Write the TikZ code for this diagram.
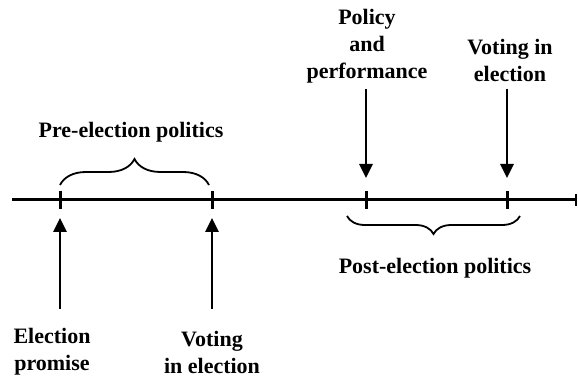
\documentclass[tikz,border=0pt]{standalone}
\usepackage{fontspec}
\setmainfont{Liberation Serif}[BoldFont={Liberation Serif Bold}]
\usetikzlibrary{arrows.meta, calc, decorations.pathreplacing}

\tikzset{
  lbl/.style={font=\fontsize{22}{27}\selectfont\bfseries, align=center, inner sep=0pt},
  arr/.style={-{Triangle[length=14pt, width=13pt]}, line width=2.8pt},
  brc/.style={decorate, decoration={brace, amplitude=#1}, line width=1.8pt},
  tck/.style={line width=3pt}
}

\begin{document}
\begin{tikzpicture}[x=1pt, y=-1pt]
  \useasboundingbox (0,0) rectangle (578,379);

  % timeline
  \coordinate (start) at (12,200);
  \coordinate (stop) at (576,200);
  \draw[line width=3pt] (start) -- (stop);
  \draw[line width=1.2pt] (576,194) -- (576,206);

  % ticks
  \coordinate (t1) at (60,200);
  \coordinate (t2) at (212,200);
  \coordinate (t3) at (366,200);
  \coordinate (t4) at (507,200);
  \foreach \t in {t1,t2,t3,t4}
    \draw[tck] ($(\t)+(0,-9)$) -- ($(\t)+(0,9)$);

  % pre-election brace
  \draw[brc=26pt] (60,185) -- (209,185);
  \node[lbl] (pre) at (131,132) {Pre-election politics};

  % post-election brace
  \draw[brc=18pt] (520,216) -- (347,216);
  \node[lbl] (post) at (435,268) {Post-election politics};

  % labels below
  \node[lbl] (promise) at (52,352) {Election\\promise};
  \node[lbl] (vote1) at (212,352) {Voting\\in election};
  \coordinate (a1) at (60,309);
  \coordinate (a2) at (212,309);
  \draw[arr] (a1) -- ($(t1)+(0,18)$);
  \draw[arr] (a2) -- ($(t2)+(0,18)$);

  % labels above
  \node[lbl] (policy) at (367,46) {Policy\\and\\performance};
  \node[lbl] (vote2) at (510,60) {Voting in\\election};
  \coordinate (a3) at (366,89);
  \coordinate (a4) at (507,89);
  \draw[arr] (a3) -- ($(t3)+(0,-22)$);
  \draw[arr] (a4) -- ($(t4)+(0,-22)$);
\end{tikzpicture}
\end{document}
